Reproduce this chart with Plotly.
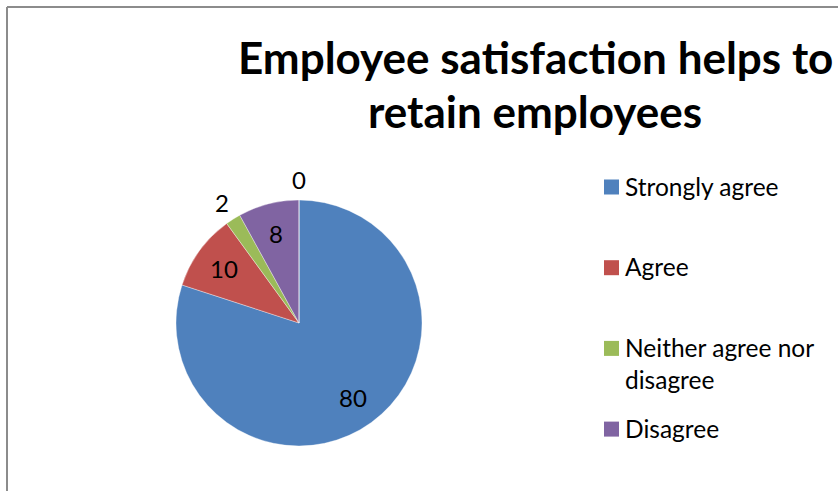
import math
import plotly.graph_objects as go

# Survey responses
categories = ["Strongly agree", "Agree", "Neither agree nor disagree", "Disagree", "Strongly disagree"]
values = [80, 10, 2, 8, 0]
colors = ["#4F81BD", "#C0504D", "#9BBB59", "#8064A2", "#4BACC6"]
label_inside = [True, True, False, True, False]

# Legend entries that fit in the chart area
legend_labels = ["Strongly agree", "Agree", "Neither agree nor<br>disagree", "Disagree"]

title_lines = ["Employee satisfaction helps to", "retain employees"]

W, H = 838, 491
FONT = "Lato"

# Pie geometry in pixels
PIE_CX, PIE_CY, PIE_R = 299, 323, 123


def px(x):
    return x / W


def py(y):
    return 1 - y / H


fig = go.Figure()

fig.add_trace(go.Pie(
    labels=categories,
    values=values,
    sort=False,
    direction="clockwise",
    rotation=0,
    marker=dict(colors=colors, line=dict(color="rgba(255,255,255,0.6)", width=0.6)),
    textinfo="none",
    domain=dict(x=[px(PIE_CX - PIE_R), px(PIE_CX + PIE_R)],
                y=[py(PIE_CY + PIE_R), py(PIE_CY - PIE_R)]),
    showlegend=False,
    hoverinfo="label+value",
))

# Data labels at each slice's mid-angle (clockwise from 12 o'clock)
total = sum(values)
cum = 0
for v, inside in zip(values, label_inside):
    mid = (cum + v / 2) / total * 2 * math.pi
    cum += v
    rr = PIE_R * (0.75 if inside else 1.165)
    fig.add_annotation(
        text=str(v), x=px(PIE_CX + rr * math.sin(mid)), y=py(PIE_CY - rr * math.cos(mid)),
        xref="paper", yref="paper", xanchor="center", yanchor="middle",
        showarrow=False, font=dict(family=FONT, size=24, color="#000000"),
    )

# Title, two centred lines
for i, line in enumerate(title_lines):
    fig.add_annotation(
        text=f"<b>{line}</b>", x=px(535), y=py(57 + 54 * i),
        xref="paper", yref="paper", xanchor="center", yanchor="middle",
        showarrow=False, font=dict(family=FONT, size=44, color="#000000"),
    )

# Legend: coloured squares with their labels, evenly stacked
shapes = []
for i, (lab, col) in enumerate(zip(legend_labels, colors)):
    cy = 187 + 80.7 * i
    shapes.append(dict(
        type="rect", xref="paper", yref="paper",
        x0=px(604), x1=px(619), y0=py(cy + 7.5), y1=py(cy - 7.5),
        fillcolor=col, line=dict(width=0),
    ))
    fig.add_annotation(
        text=lab, x=px(623), y=py(cy - 17.5), xref="paper", yref="paper",
        xanchor="left", yanchor="top", align="left", showarrow=False,
        font=dict(family=FONT, size=24.5, color="#000000"),
    )

# Chart frame
shapes.append(dict(type="line", xref="paper", yref="paper",
                   x0=px(7), x1=1.0, y0=py(7), y1=py(7),
                   line=dict(color="#8C8C8C", width=2)))
shapes.append(dict(type="line", xref="paper", yref="paper",
                   x0=px(7), x1=px(7), y0=py(7), y1=0,
                   line=dict(color="#8C8C8C", width=2)))

fig.update_layout(
    width=W, height=H,
    margin=dict(l=0, r=0, t=0, b=0),
    paper_bgcolor="#FFFFFF",
    plot_bgcolor="#FFFFFF",
    shapes=shapes,
    font=dict(family=FONT),
)

fig.write_html("out.html")
